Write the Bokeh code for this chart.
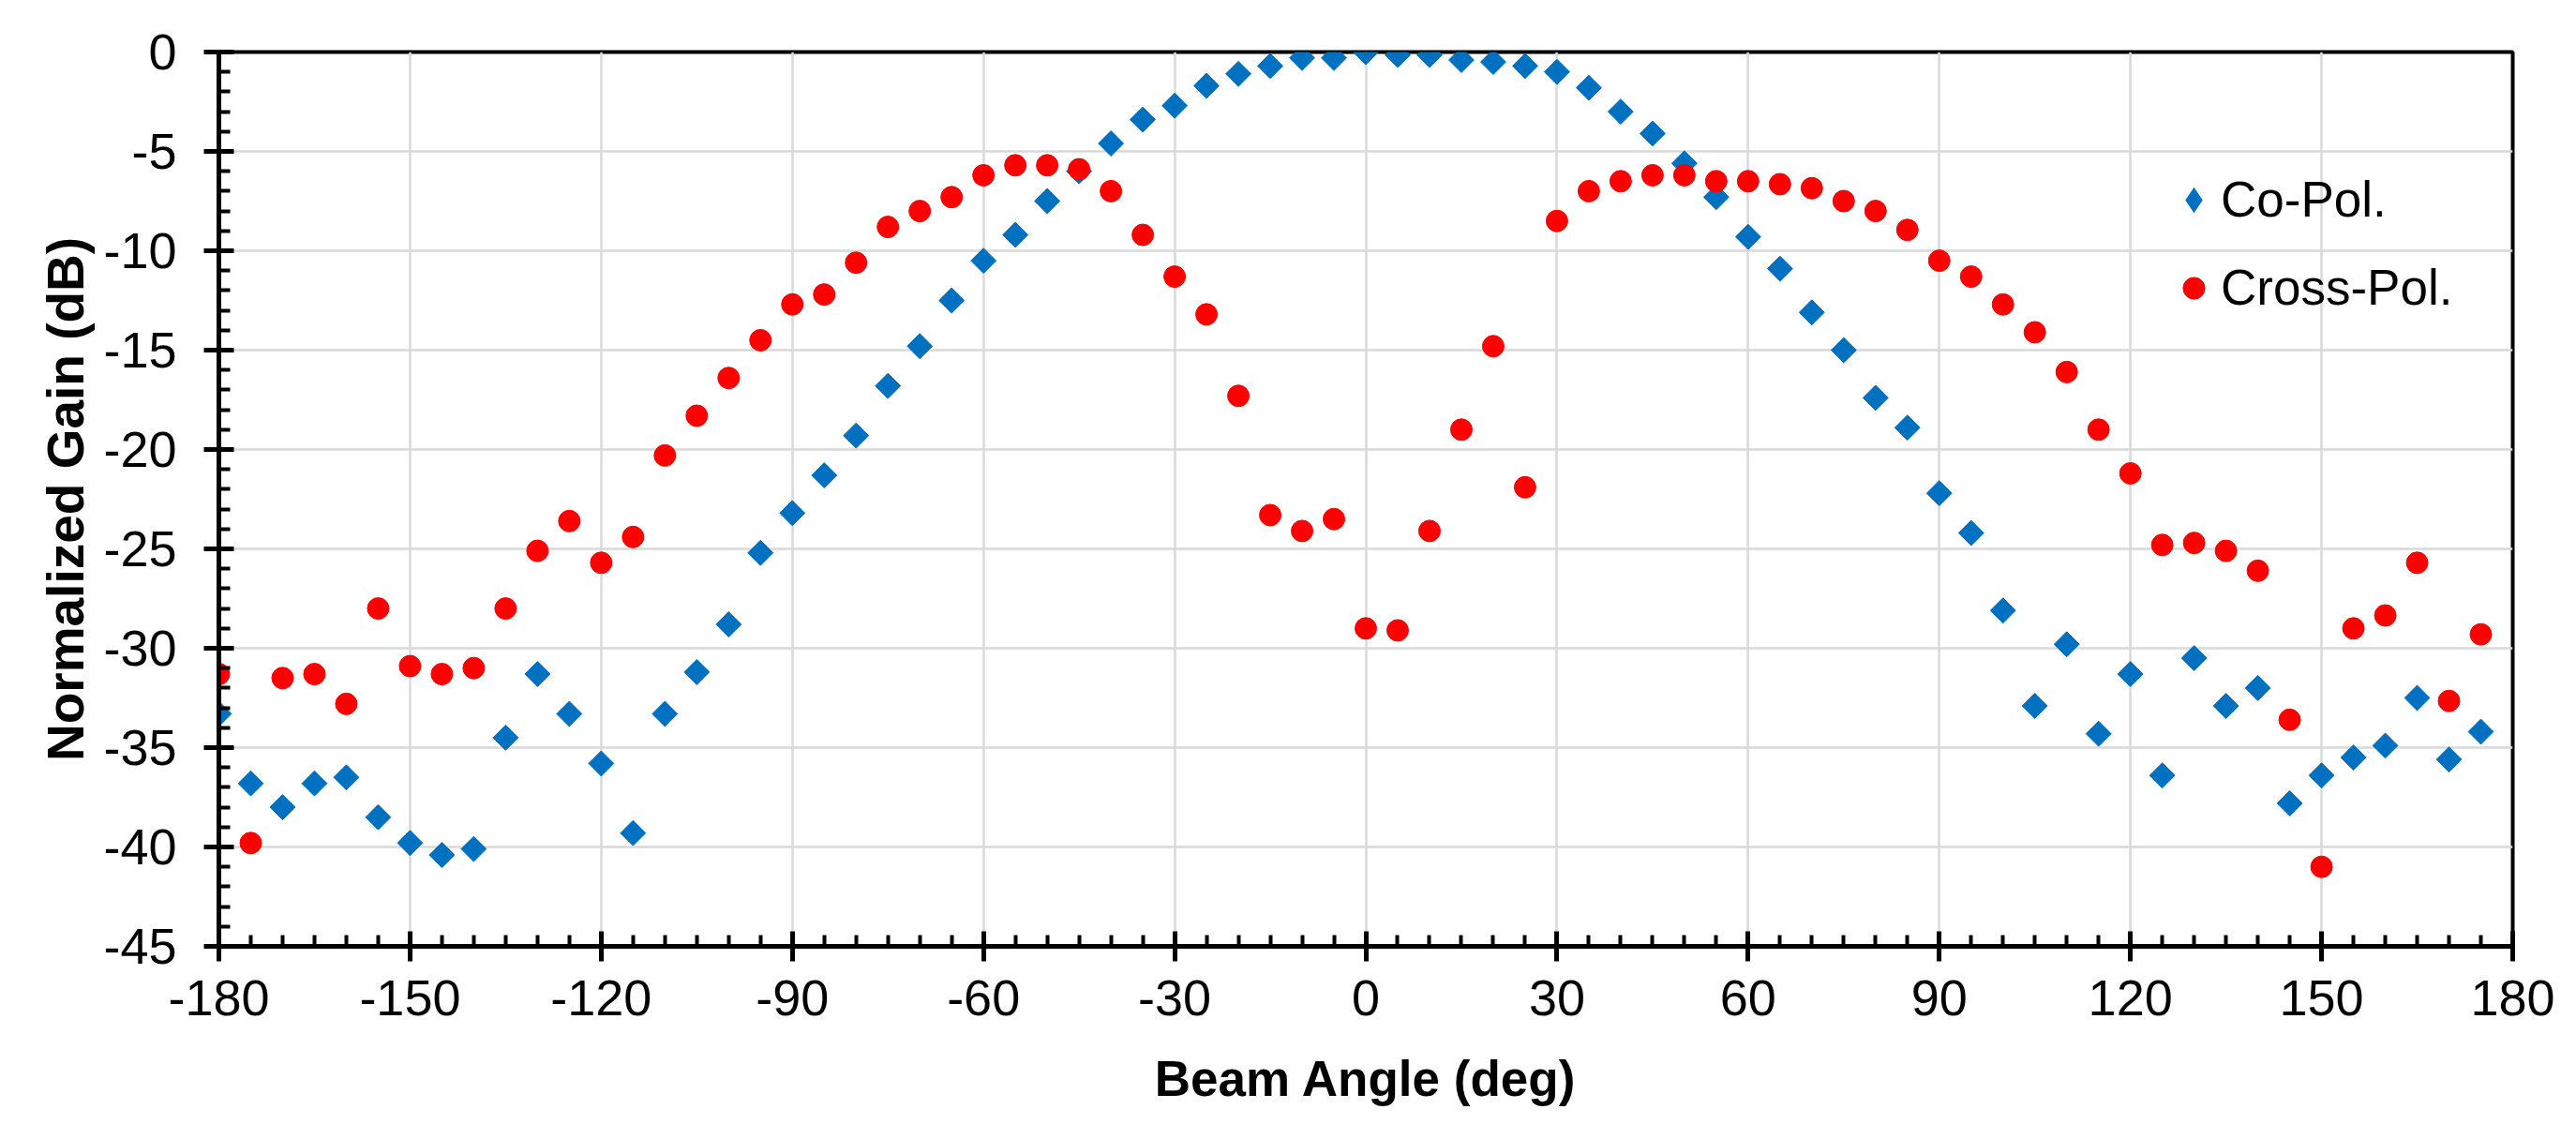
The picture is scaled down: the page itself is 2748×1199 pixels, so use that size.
import numpy as np
from bokeh.plotting import figure
from bokeh.models import (ColumnDataSource, FixedTicker, Legend, LegendItem, Range1d,
                          PrintfTickFormatter)
from bokeh.embed import file_html
from bokeh.resources import INLINE

angles = [-180, -175, -170, -165, -160, -155, -150, -145, -140, -135, -130, -125,
          -120, -115, -110, -105, -100, -95, -90, -85, -80, -75, -70, -65,
          -60, -55, -50, -45, -40, -35, -30, -25, -20, -15, -10, -5,
          0, 5, 10, 15, 20, 25, 30, 35, 40, 45, 50, 55,
          60, 65, 70, 75, 80, 85, 90, 95, 100, 105, 110, 115,
          120, 125, 130, 135, 140, 145, 150, 155, 160, 165, 170, 175]

co_pol = [-33.3, -36.8, -38.0, -36.8, -36.5, -38.5, -39.8, -40.4, -40.1, -34.5, -31.3, -33.3,
          -35.8, -39.3, -33.3, -31.2, -28.8, -25.2, -23.2, -21.3, -19.3, -16.8, -14.8, -12.5,
          -10.5, -9.2, -7.5, -6.0, -4.6, -3.4, -2.7, -1.7, -1.1, -0.7, -0.3, -0.3,
          0.0, -0.15, -0.15, -0.4, -0.5, -0.7, -1.0, -1.8, -3.0, -4.1, -5.6, -7.3,
          -9.3, -10.9, -13.1, -15.0, -17.4, -18.9, -22.2, -24.2, -28.1, -32.9, -29.8, -34.3,
          -31.3, -36.4, -30.5, -32.9, -32.0, -37.8, -36.4, -35.5, -34.9, -32.5, -35.6, -34.2]

cross_pol = [-31.3, -39.8, -31.5, -31.3, -32.8, -28.0, -30.9, -31.3, -31.0, -28.0, -25.1, -23.6,
             -25.7, -24.4, -20.3, -18.3, -16.4, -14.5, -12.7, -12.2, -10.6, -8.8, -8.0, -7.3,
             -6.2, -5.7, -5.7, -5.9, -7.0, -9.2, -11.3, -13.2, -17.3, -23.3, -24.1, -23.5,
             -29.0, -29.1, -24.1, -19.0, -14.8, -21.9, -8.5, -7.0, -6.5, -6.2, -6.2, -6.5,
             -6.5, -6.65, -6.85, -7.5, -8.0, -8.95, -10.5, -11.3, -12.7, -14.1, -16.1, -19.0,
             -21.2, -24.8, -24.7, -25.1, -26.1, -33.6, -41.0, -29.0, -28.35, -25.7, -32.65, -29.3]

series_names = ["Co-Pol.", "Cross-Pol."]
x_ticks = [-180, -150, -120, -90, -60, -30, 0, 30, 60, 90, 120, 150, 180]
y_ticks = [-45, -40, -35, -30, -25, -20, -15, -10, -5, 0]

FONT = "Liberation Sans"
BLUE = "#0070C0"
RED = "#FF0000"

p = figure(width=2740, height=1190, output_backend="svg", toolbar_location=None,
           x_range=Range1d(-180, 180), y_range=Range1d(-45, 0),
           min_border_left=233, min_border_right=60, min_border_top=55, min_border_bottom=181)

p.outline_line_color = "black"
p.outline_line_width = 4
p.background_fill_color = "white"
p.border_fill_color = "white"

src = ColumnDataSource(dict(x=angles, co=co_pol, cr=cross_pol))
r_co = p.scatter("x", "co", source=src, marker="square", angle=np.pi / 4, size=19,
                 fill_color=BLUE, line_color=BLUE, line_width=1)
r_cr = p.scatter("x", "cr", source=src, marker="circle", size=23,
                 fill_color=RED, line_color=RED, line_width=1)

# legend-only key glyph (a NaN row, so nothing is drawn in the plot area)
key_src = ColumnDataSource(dict(x=[np.nan], y=[np.nan]))
r_co_key = p.scatter("x", "y", source=key_src, marker="diamond",
                     fill_color=BLUE, line_color=BLUE, line_width=2.5, line_join="miter")

for ax in (p.xaxis[0], p.yaxis[0]):
    ax.axis_line_width = 5
    ax.axis_line_color = "black"
    ax.major_tick_line_width = 5
    ax.minor_tick_line_width = 4
    ax.major_tick_in = 16
    ax.major_tick_out = 16
    ax.minor_tick_in = 12
    ax.minor_tick_out = 0
    ax.formatter = PrintfTickFormatter(format="%d")
    ax.major_label_text_font = FONT
    ax.major_label_text_font_size = "54px"
    ax.major_label_text_color = "black"
    ax.axis_label_text_font = FONT
    ax.axis_label_text_font_style = "bold"
    ax.axis_label_text_color = "black"

p.xaxis[0].axis_label_text_font_size = "53px"
p.yaxis[0].axis_label_text_font_size = "55px"
p.xaxis[0].ticker = FixedTicker(ticks=x_ticks, minor_ticks=list(range(-180, 181, 5)))
p.yaxis[0].ticker = FixedTicker(ticks=y_ticks, minor_ticks=list(range(-45, 1, 1)))
p.xaxis[0].major_label_standoff = 20
p.yaxis[0].major_label_standoff = 29
p.xaxis[0].axis_label = "Beam Angle (deg)"
p.yaxis[0].axis_label = "Normalized Gain (dB)"
p.xaxis[0].axis_label_standoff = 35
p.yaxis[0].axis_label_standoff = 6

p.xgrid.grid_line_color = "#d9d9d9"
p.ygrid.grid_line_color = "#d9d9d9"
p.xgrid.grid_line_width = 2.5
p.ygrid.grid_line_width = 2.5

legend = Legend(items=[LegendItem(label=series_names[0], renderers=[r_co_key]),
                       LegendItem(label=series_names[1], renderers=[r_cr])],
                location=(2078, 672), orientation="vertical",
                label_text_font=FONT, label_text_font_size="53px", label_text_color="black",
                glyph_width=58, glyph_height=60, label_height=60, label_standoff=-6,
                spacing=33, padding=0, margin=0,
                border_line_alpha=0, background_fill_alpha=0)
p.add_layout(legend, "center")

open("out.html", "w").write(file_html(p, INLINE))
